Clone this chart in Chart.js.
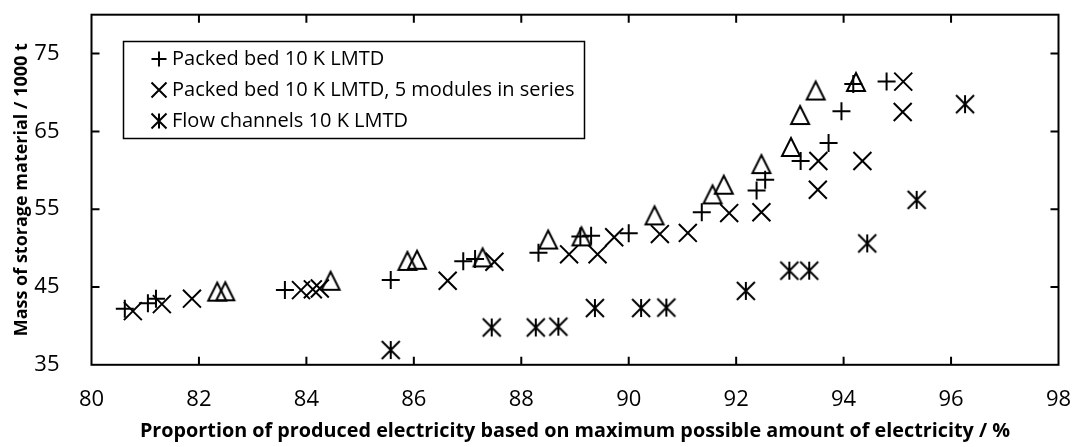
<!DOCTYPE html>
<html><head><meta charset="utf-8">
<script src="https://cdn.jsdelivr.net/npm/chart.js@4.4.1/dist/chart.umd.min.js"></script>
<style>html,body{margin:0;padding:0;background:#fff;} #wrap{width:1078px;height:447px;position:relative;}</style>
</head><body><div id="wrap"><canvas id="c" width="1078" height="447"></canvas></div>
<script>
// ---- data ----
const X_TICKS = [80, 82, 84, 86, 88, 90, 92, 94, 96, 98];
const Y_TICKS = [35, 45, 55, 65, 75];
const X_TITLE = 'Proportion of produced electricity based on maximum possible amount of electricity / %';
const Y_TITLE = 'Mass of storage material / 1000 t';
const LABELS = ['Packed bed 10 K LMTD', 'Packed bed 10 K LMTD, 5 modules in series', 'Flow channels 10 K LMTD'];

const plusX = [80.62, 81.05, 81.2, 83.6, 85.57, 86.92, 87.14, 88.32, 89.1, 89.3, 90.0, 91.36, 92.38, 92.54, 93.2, 93.72, 93.96, 94.18, 94.8];
const plusY = [42.2, 42.9, 43.5, 44.6, 45.9, 48.3, 48.6, 49.4, 51.5, 51.6, 51.9, 54.6, 57.4, 58.8, 61.2, 63.5, 67.6, 71.1, 71.4];

const crossX = [80.77, 81.31, 81.87, 83.9, 84.12, 84.25, 86.63, 87.5, 88.89, 89.42, 89.73, 90.58, 91.1, 91.87, 92.47, 93.52, 93.53, 94.35, 95.1, 95.11];
const crossY = [41.9, 42.8, 43.5, 44.6, 44.7, 44.8, 45.8, 48.25, 49.2, 49.2, 51.4, 51.8, 51.95, 54.5, 54.6, 57.5, 61.2, 61.2, 67.5, 71.4];

const starX = [85.57, 87.45, 88.27, 88.69, 89.37, 90.23, 90.7, 92.18, 92.99, 93.36, 94.44, 95.36, 96.26];
const starY = [36.9, 39.8, 39.8, 39.9, 42.3, 42.3, 42.35, 44.5, 47.1, 47.1, 50.6, 56.2, 68.5];

const triX = [82.34, 82.49, 84.45, 85.88, 86.06, 87.28, 88.5, 89.12, 90.48, 91.56, 91.77, 92.47, 93.02, 93.19, 93.48, 94.23];
const triY = [44.4, 44.45, 45.8, 48.35, 48.5, 48.8, 51.1, 51.5, 54.2, 56.9, 58.15, 60.8, 63.0, 67.1, 70.25, 71.35];

const pts = (xs, ys) => xs.map((x, i) => ({x: x, y: ys[i]}));

// ---- marker images ----
function makeTriangle(s, lw) {
  const pad = lw + 1, c = document.createElement('canvas');
  c.width = c.height = s + 2 * pad;
  const g = c.getContext('2d');
  g.strokeStyle = '#000'; g.lineWidth = lw;
  g.beginPath(); g.moveTo(pad + s / 2, pad); g.lineTo(pad + s, pad + s); g.lineTo(pad, pad + s); g.closePath(); g.stroke();
  return c;
}
function makeAsterisk(s, lw) {
  const pad = lw, c = document.createElement('canvas');
  c.width = c.height = s + 2 * pad;
  const g = c.getContext('2d');
  g.strokeStyle = '#000'; g.lineWidth = lw;
  g.beginPath();
  g.moveTo(pad, pad); g.lineTo(pad + s, pad + s);
  g.moveTo(pad + s, pad); g.lineTo(pad, pad + s);
  g.moveTo(pad + s / 2, pad); g.lineTo(pad + s / 2, pad + s);
  g.stroke();
  return c;
}
const TRI = makeTriangle(18, 2);
const AST = makeAsterisk(18, 2);

const FONT = '"Open Sans", "Noto Sans", sans-serif';

// ---- frame with inward ticks ----
const framePlugin = {
  id: 'frame',
  afterDraw(chart) {
    const {ctx, chartArea: a, scales} = chart;
    ctx.save();
    ctx.strokeStyle = '#000'; ctx.lineWidth = 2;
    ctx.strokeRect(a.left, a.top, a.right - a.left, a.bottom - a.top);
    const L = 8;
    ctx.beginPath();
    X_TICKS.forEach(v => {
      const px = scales.x.getPixelForValue(v);
      if (px <= a.left + 1 || px >= a.right - 1) return;
      ctx.moveTo(px, a.bottom); ctx.lineTo(px, a.bottom - L);
      ctx.moveTo(px, a.top); ctx.lineTo(px, a.top + L);
    });
    Y_TICKS.forEach(v => {
      const py = scales.y.getPixelForValue(v);
      if (py >= a.bottom - 1 || py <= a.top + 1) return;
      ctx.moveTo(a.left, py); ctx.lineTo(a.left + L, py);
      ctx.moveTo(a.right, py); ctx.lineTo(a.right - L, py);
    });
    ctx.stroke();
    ctx.restore();
  }
};

// ---- boxed legend ----
const legendPlugin = {
  id: 'boxLegend',
  afterDraw(chart) {
    const ctx = chart.ctx;
    ctx.save();
    ctx.font = '20px ' + FONT;
    const textX = 172;
    const maxW = Math.max(...chart.data.datasets.slice(0, 3).map(ds => ctx.measureText(ds.label).width));
    ctx.strokeStyle = '#000'; ctx.lineWidth = 1.5;
    ctx.strokeRect(123.5, 41.5, Math.round(textX + maxW + 10 - 123.5), 97);
    const rows = [59, 90, 121];
    const sx = 159, h = 7.5;
    ctx.lineWidth = 2;
    ctx.beginPath();
    ctx.moveTo(sx - h, rows[0]); ctx.lineTo(sx + h, rows[0]);
    ctx.moveTo(sx, rows[0] - h); ctx.lineTo(sx, rows[0] + h);
    ctx.moveTo(sx - h, rows[1] - h); ctx.lineTo(sx + h, rows[1] + h);
    ctx.moveTo(sx + h, rows[1] - h); ctx.lineTo(sx - h, rows[1] + h);
    ctx.moveTo(sx - h, rows[2] - h); ctx.lineTo(sx + h, rows[2] + h);
    ctx.moveTo(sx + h, rows[2] - h); ctx.lineTo(sx - h, rows[2] + h);
    ctx.moveTo(sx, rows[2] - h); ctx.lineTo(sx, rows[2] + h);
    ctx.stroke();
    ctx.fillStyle = '#000';
    ctx.textBaseline = 'middle'; ctx.textAlign = 'left';
    chart.data.datasets.slice(0, 3).forEach((ds, i) => ctx.fillText(ds.label, textX, rows[i]));
    ctx.restore();
  }
};

Chart.defaults.color = '#000';

new Chart(document.getElementById('c'), {
  type: 'scatter',
  data: {
    datasets: [
      {label: LABELS[0], data: pts(plusX, plusY), pointStyle: 'cross', pointRadius: 9, pointHoverRadius: 9, pointBorderWidth: 2, pointHoverBorderWidth: 2, borderColor: '#000', backgroundColor: 'transparent'},
      {label: LABELS[1], data: pts(crossX, crossY), pointStyle: 'crossRot', pointRadius: 12.7, pointHoverRadius: 12.7, pointBorderWidth: 2, pointHoverBorderWidth: 2, borderColor: '#000', backgroundColor: 'transparent'},
      {label: LABELS[2], data: pts(starX, starY), pointStyle: AST, pointRadius: 10, borderColor: '#000', backgroundColor: 'transparent'},
      {label: '', data: pts(triX, triY), pointStyle: TRI, pointRadius: 10, borderColor: '#000', backgroundColor: 'transparent'}
    ]
  },
  options: {
    responsive: false,
    animation: false,
    events: [],
    layout: {padding: {top: 8.8, right: 19.5, left: 0, bottom: 0}},
    plugins: {legend: {display: false}, tooltip: {enabled: false}},
    scales: {
      x: {
        type: 'linear', min: 80, max: 98,
        grid: {display: false}, border: {display: false},
        afterBuildTicks: s => { s.ticks = X_TICKS.map(v => ({value: v})); },
        afterFit: s => { s.height = 447 - 364.8; s.paddingLeft = 0; s.paddingRight = 0; s.paddingTop = 0; s.paddingBottom = 0; },
        ticks: {padding: 14, font: {family: FONT, size: 22}, maxRotation: 0},
        title: {display: true, text: X_TITLE, font: {family: FONT, size: 19.8, weight: 'bold'}, padding: {top: 0, bottom: 4}}
      },
      y: {
        type: 'linear', min: 35, max: 80,
        grid: {display: false}, border: {display: false},
        afterBuildTicks: s => { s.ticks = Y_TICKS.map(v => ({value: v})); },
        afterFit: s => { s.width = 91.5; s.paddingLeft = 0; s.paddingRight = 0; s.paddingTop = 0; s.paddingBottom = 0; },
        ticks: {padding: 24, font: {family: FONT, size: 22}},
        title: {display: true, text: Y_TITLE, font: {family: FONT, size: 18, weight: 'bold'}, padding: {top: 11, bottom: 0}}
      }
    }
  },
  plugins: [framePlugin, legendPlugin]
});
</script>
</body></html>
